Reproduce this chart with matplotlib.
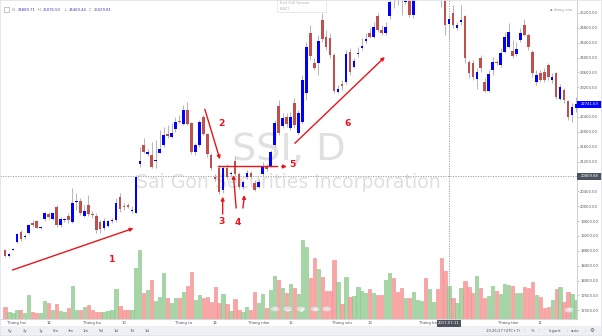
import matplotlib
matplotlib.use('Agg')
import matplotlib.pyplot as plt
from matplotlib.patches import Rectangle, Circle
import numpy as np

# ---------------- data ----------------
opens = [18822, 18661, 18835, 19045, 19306, 19166, 19271, 19556, 19602, 19419,
         19648, 19790, 19648, 19987, 19494, 19616, 19737, 19583, 20113, 20148,
         19737, 20032, 19796, 19745, 19583, 19406, 19468, 19597, 19629, 20240,
         20019, 20032, 19866, 19825, 21136, 21647, 21396, 21378, 21211, 21439,
         21647, 21943, 21870, 22069, 22300, 22211, 22588, 22230, 21466, 21647,
         22392, 21942, 21378, 20794, 21036, 20436, 21036, 20872, 21224, 20866,
         20525, 20778, 20901, 20632, 20525, 20866, 21063, 21082, 21647, 22696,
         22158, 22400, 22104, 22776, 21969, 22265, 23053, 24651, 23860, 23844,
         25009, 24560, 24517, 24068, 23080, 23287, 23349, 24156, 23753, 24086,
         24264, 24444, 24651, 24560, 25117, 24740, 24651, 25117, 25650, 25700,
         25720, 25480, 25650, 25144, 25600, 25800, 26000, 25850, 26050, 26150,
         25900, 25700, 24889.71, 25189, 24786, 24963, 25117, 23879, 23852, 23422,
         23987, 23341, 23099, 23664, 23887, 23799, 24148, 24283, 24175, 24094,
         24471, 24875, 24606, 24148, 23341, 23583, 23610, 23799, 23395, 23583,
         22884, 23126, 22830, 22454, 22642]
highs = [18841, 18733, 18889, 19287, 19360, 19239, 19513, 19629, 19629, 19481,
         19852, 19852, 19825, 20032, 19718, 19683, 19809, 20482, 20364, 20213,
         20032, 20302, 19871, 19809, 19629, 19675, 19629, 19683, 20213, 20347,
         20086, 20078, 20006, 20840, 21601, 21827, 21539, 21735, 21781, 22050,
         22139, 22185, 22230, 22408, 22454, 22722, 22811, 22273, 21692, 22319,
         22454, 21977, 21431, 20866, 21108, 21082, 21136, 20947, 21324, 20920,
         20705, 20974, 20947, 20705, 20732, 21189, 21136, 21512, 22319, 22857,
         22507, 22507, 22534, 22911, 22588, 23530, 24417, 24875, 23987, 24606,
         25197, 24740, 24659, 24121, 23261, 23395, 24202, 24256, 23987, 24283,
         24525, 24659, 24794, 24955, 25197, 24875, 24955, 25628, 25750, 25800,
         25800, 25620, 25720, 25700, 25900, 26100, 26150, 26150, 26250, 26200,
         25950, 25800, 25076.50, 25413, 24955, 25413, 25144, 23933, 23933, 23718,
         24068, 23449, 23664, 24014, 23933, 24256, 24686, 24928, 24471, 24417,
         24794, 25036, 24659, 24202, 23664, 23664, 23718, 23852, 23583, 23610,
         23288, 23180, 22857, 22776, 22938]
lows = [18626, 18642, 18809, 19018, 19072, 19131, 19244, 19449, 19406, 19387,
        19610, 19648, 19629, 19449, 19433, 19575, 19540, 19556, 19898, 19764,
        19718, 19737, 19683, 19271, 19287, 19360, 19433, 19548, 19583, 19852,
        19898, 19952, 19817, 19809, 21063, 21423, 21351, 21020, 21028, 21423,
        21601, 21827, 21827, 22004, 22230, 22185, 22185, 21404, 21378, 21601,
        21916, 21332, 20974, 20678, 20328, 20355, 20732, 20813, 20813, 20463,
        20463, 20732, 20732, 20396, 20490, 20813, 20947, 21055, 21593, 21915,
        22104, 22131, 22050, 22104, 21915, 22211, 22857, 23933, 23664, 23530,
        24417, 24202, 23987, 23045, 23045, 23126, 23287, 23530, 23718, 24014,
        24202, 24390, 24525, 24525, 24686, 24606, 24606, 25036, 25324, 25413,
        25144, 25439, 25090, 25063, 25560, 25750, 25800, 25800, 26000, 25850,
        25350, 24606, 24469.44, 24794, 24740, 24875, 23852, 23449, 23395, 23153,
        23610, 23072, 23072, 23530, 23799, 23745, 24121, 24256, 23987, 24041,
        24417, 24579, 24202, 23476, 23261, 23341, 23341, 23395, 23314, 22884,
        22857, 22776, 22319, 22273, 22534]
closes = [18661, 18706, 18862, 19252, 19126, 19193, 19486, 19486, 19422, 19446,
          19809, 19702, 19809, 19494, 19648, 19643, 19629, 20094, 20148, 19809,
          19879, 19790, 19769, 19360, 19379, 19602, 19602, 19624, 20078, 19917,
          19992, 19987, 19893, 20794, 21224, 21450, 21466, 21063, 21238, 21531,
          21916, 21889, 21977, 22273, 22257, 22588, 22211, 21466, 21647, 22273,
          21942, 21404, 21020, 20724, 20390, 21036, 20778, 20899, 20866, 20525,
          20659, 20901, 20778, 20436, 20659, 21082, 20993, 21466, 22230, 21977,
          22373, 22211, 22400, 22185, 22507, 23395, 24275, 24041, 23710, 24452,
          24490, 24291, 24068, 23107, 23145, 23234, 24094, 23618, 23906, 24129,
          24310, 24490, 24560, 24829, 24740, 24651, 24829, 25501, 25600, 25620,
          25600, 25507, 25144, 25600, 25800, 26000, 25850, 26050, 26150, 25900,
          25700, 24875, 25029.81, 24875, 24875, 25009, 23987, 23583, 23476, 23610,
          23718, 23099, 23556, 23879, 23852, 24121, 24552, 24686, 24041, 24229,
          24659, 24606, 24283, 23583, 23530, 23395, 23395, 23476, 23476, 22938,
          23207, 22857, 22400, 22669, 22741.63]
volumes = [1.17, 0.73, 0.57, 0.90, 0.90, 0.57, 2.40, 0.73, 0.57, 0.63,
           1.83, 1.63, 0.90, 1.50, 0.83, 0.73, 1.13, 3.30, 0.90, 0.90,
           1.23, 1.37, 0.90, 0.73, 0.73, 0.73, 0.83, 0.90, 2.97, 1.30,
           0.87, 0.87, 0.90, 5.07, 6.90, 2.57, 2.90, 3.90, 1.80, 2.23,
           4.57, 2.07, 1.63, 2.13, 2.13, 2.73, 3.30, 4.67, 1.90, 2.40,
           2.07, 2.23, 1.73, 3.17, 1.57, 2.50, 1.50, 0.80, 1.97, 0.90,
           0.67, 1.17, 0.90, 2.67, 1.63, 2.50, 1.07, 2.90, 4.33, 3.90,
           3.07, 2.63, 3.47, 3.07, 2.50, 7.90, 7.23, 4.07, 6.13, 5.00,
           4.23, 2.80, 2.80, 5.90, 3.67, 1.50, 4.23, 2.17, 2.30, 3.17,
           2.77, 2.63, 2.97, 2.57, 2.40, 2.40, 3.90, 4.63, 4.13, 2.73,
           3.07, 2.07, 2.07, 2.73, 1.90, 1.80, 4.07, 2.97, 1.67, 2.97,
           6.13, 4.80, 3.33, 2.07, 1.63, 3.07, 3.80, 3.23, 2.57, 4.30,
           3.13, 2.13, 2.30, 3.30, 2.80, 2.50, 3.47, 3.40, 3.33, 2.57,
           2.57, 3.23, 3.13, 3.67, 2.40, 2.17, 1.13, 1.17, 1.90, 3.03,
           3.17, 1.73, 2.73, 2.50, 1.90]

time_tick_pos = [3, 11, 22, 30, 45, 53, 64, 72, 85, 92, 107, 127, 135]
time_tick_labels = ['Tháng hai', '14', 'Tháng ba', '13', 'Tháng tư', '14', 'Tháng năm',
                    '15', 'Tháng sáu', '13', 'Tháng bảy', 'Tháng tám', '11']
price_ticks = [17200, 17600, 18000, 18400, 18800, 19200, 19600, 20000, 20400,
               21200, 21600, 22000, 22400, 23200, 23600, 24000, 24400, 24800, 25200]
cross_idx = 112
cross_price = 20809.88
cross_date = '2017-07-11'
last_price = 22741.63
legend_vals = ['24889.71', '25076.50', '24469.44', '25029.81']
range_buttons = ['5y', '2y', '1y', '6m', '3m', '1m', '5d', '1d', '7d', '1d']

# annotations (candle index, price)
ann_arrows = [((1.9, 18284), (32.4, 19406)),
              ((50.4, 22607), (54.2, 21262)),
              ((54.9, 19790), (54.9, 20256)),
              ((58.3, 19952), (57.6, 20840)),
              ((60.0, 19952), (60.4, 20302)),
              ((69.8, 21068), (71.1, 21068)),
              ((73.1, 21692), (95.8, 24014))]
ann_line5 = ((53.8, 68.5), 21090)
ann_labels = [('1', 26.9, 18572), ('2', 54.6, 22230), ('3', 54.6, 19583),
              ('4', 58.6, 19556), ('5', 72.5, 21122), ('6', 86.4, 22230)]

# ---------------- styling ----------------
W, H = 602, 336
UP = '#0000ff'
DOWN = '#c0504d'
WICK = '#b8b8b8'
VUP, VUP_E = '#a6d6a6', '#86c386'
VDN, VDN_E = '#f9a5a5', '#f28b8b'
ANN = '#e8151b'
AXIS_TXT = '#50535e'
SMALL = 2.7

fig = plt.figure(figsize=(W / 100, H / 100), dpi=100)
fig.patch.set_facecolor('white')


def fx(px):
    return px / W


def fy(py):
    return 1 - py / H


AX_R, AX_B = 577, 319
rect = [0, fy(AX_B), AX_R / W, AX_B / H]
axv = fig.add_axes(rect, zorder=1)
ax = fig.add_axes(rect, zorder=2)
ax.patch.set_visible(False)

n = len(opens)
x = np.arange(n)
o = np.array(opens, float)
c = np.array(closes, float)
hi = np.array(highs, float)
lo = np.array(lows, float)
up = c >= o

PITCH = 3.965
xl = (-5 / PITCH, (AX_R - 5) / PITCH)
ylo = 25547 - 26.9 * AX_B
ax.set_xlim(*xl)
ax.set_ylim(ylo, 25547)
axv.set_xlim(*xl)
axv.set_ylim(0, AX_B / 10)

# volume
vcol = [VUP if u else VDN for u in up]
vedge = [VUP_E if u else VDN_E for u in up]
axv.bar(x, volumes, width=0.82, color=vcol, edgecolor=vedge, linewidth=0.4, zorder=1)
axv.axis('off')

# watermark
axv.text(0.5, 1 - 160 / AX_B, 'SSI, D', transform=axv.transAxes, ha='center',
         va='baseline', fontsize=27.5, color='#e0e0e0', zorder=0)
axv.text(0.5, 1 - 188.5 / AX_B, 'Sai Gon Securities Incorporation', transform=axv.transAxes,
         ha='center', va='baseline', fontsize=13.6, color='#e0e0e0', zorder=0)

# candles
ax.vlines(x, lo, hi, color=WICK, linewidth=0.75, zorder=3)
body_lo = np.minimum(o, c)
body_h = np.maximum(np.abs(c - o), 27)
ax.bar(x, body_h, bottom=body_lo, width=0.66, color=np.where(up, UP, DOWN),
       linewidth=0, zorder=4)

# crosshair
ax.axvline(cross_idx, color='#9598a1', lw=0.6, ls=(0, (1.5, 1.5)), zorder=2)
ax.axhline(cross_price, color='#9598a1', lw=0.6, ls=(0, (1.5, 1.5)), zorder=2)

# annotations
for (s, e) in ann_arrows:
    ax.annotate('', xy=e, xytext=s,
                arrowprops=dict(arrowstyle='-|>', color=ANN, lw=1.0, mutation_scale=5,
                                shrinkA=0, shrinkB=0), zorder=6)
ax.plot(list(ann_line5[0]), [ann_line5[1]] * 2, color=ANN, lw=1.0, zorder=6)
for t, xi, yp in ann_labels:
    ax.text(xi, yp, t, color=ANN, fontsize=6.6, fontweight='bold', ha='center',
            va='center', zorder=6)

# axes styling
for s in ['top', 'left']:
    ax.spines[s].set_visible(False)
ax.spines['right'].set_color('#c8c8c8')
ax.spines['bottom'].set_color('#d0d0d0')
ax.spines['right'].set_linewidth(0.6)
ax.spines['bottom'].set_linewidth(0.6)
ax.yaxis.tick_right()
ax.set_yticks(price_ticks)
ax.set_yticklabels([f'{p:.2f}' for p in price_ticks])
ax.tick_params(axis='y', length=1.5, width=0.5, color='#b0b0b0', labelcolor=AXIS_TXT,
               labelsize=SMALL, pad=0.8)
ax.set_xticks(time_tick_pos)
ax.set_xticklabels(time_tick_labels)
ax.tick_params(axis='x', length=0, labelcolor=AXIS_TXT, labelsize=SMALL, pad=1.6)


# price label boxes
def price_box(price, fc, txt):
    yp = ax.transData.transform((0, price))[1]
    ypix = H - yp
    fig.patches.append(Rectangle((fx(577), fy(ypix + 3.6)), 25 / W, 7.2 / H,
                                 transform=fig.transFigure, facecolor=fc, edgecolor='none',
                                 zorder=10))
    fig.text(fx(589.5), fy(ypix), txt, ha='center', va='center', fontsize=SMALL,
             color='white', zorder=11)


price_box(last_price, '#0000ff', f'{last_price:.2f}')
price_box(cross_price, '#4c525e', f'{cross_price:.2f}')

# time label box
xc = ax.transData.transform((cross_idx, 0))[0]
fig.patches.append(Rectangle((fx(xc - 12), fy(326.5)), 24 / W, 7 / H, transform=fig.transFigure,
                             facecolor='#4c525e', edgecolor='none', zorder=10))
fig.text(fx(xc), fy(323), cross_date, ha='center', va='center', fontsize=SMALL,
         color='white', zorder=11)

# bottom toolbar
fig.patches.append(Rectangle((0, 0), 1, 10 / H, transform=fig.transFigure,
                             facecolor='#eef0f3', edgecolor='none', zorder=1))
bx = 10
for lab in range_buttons:
    fig.text(fx(bx), fy(331), lab, ha='center', va='center', fontsize=SMALL,
             color=AXIS_TXT, zorder=11)
    bx += 15.2
for lab, px in [('19:26:27 (UTC+7)', 503), ('%', 533), ('logarit', 555), ('auto', 575)]:
    fig.text(fx(px), fy(331), lab, ha='center', va='center', fontsize=SMALL,
             color=AXIS_TXT, zorder=11)
fig.text(fx(592), fy(331), '⚙', ha='center', va='center', fontsize=4, color=AXIS_TXT, zorder=11)
for px in [524, 539, 567, 585]:
    fig.text(fx(px), fy(331), '|', ha='center', va='center', fontsize=SMALL,
             color='#c8c8c8', zorder=11)

# top-left legend
fig.patches.append(Rectangle((fx(4), fy(12)), 5 / W, 5 / H, transform=fig.transFigure,
                             facecolor='none', edgecolor='#9a9a9a', lw=0.4, zorder=10))
for lab, px in [('O:', 12), ('H', 38), ('L', 64.5), ('C', 89)]:
    fig.text(fx(px), fy(10), lab, ha='left', va='center', fontsize=SMALL, color='#7a7a7a',
             zorder=11)
for val, px in zip(legend_vals, [17.5, 43, 69, 94]):
    fig.text(fx(px), fy(10), val, ha='left', va='center', fontsize=SMALL, color='#3c3cb4',
             zorder=11)

# top right
fig.text(fx(551), fy(10), '●', ha='center', va='center', fontsize=2.2, color='#9a9a9a', zorder=11)
fig.text(fx(554), fy(10), 'đóng cửa', ha='left', va='center', fontsize=SMALL, color='#9a9a9a',
         zorder=11)

# exit fullscreen tooltip
fig.patches.append(Rectangle((fx(277), fy(12)), 49 / W, 12 / H, transform=fig.transFigure,
                             facecolor='white', edgecolor='#e2e2e2', lw=0.5, zorder=10))
fig.text(fx(280), fy(3.5), 'Exit Full Screen', ha='left', va='center', fontsize=SMALL,
         color='#b0b0b0', zorder=11)
fig.text(fx(280), fy(8.7), '(ESC)', ha='left', va='center', fontsize=SMALL,
         color='#b0b0b0', zorder=11)

# navigation buttons
for px, sym in zip([275, 287.7, 301, 315, 326.7], ['‹', '−', '↺', '+', '›']):
    fig.patches.append(Circle((fx(px), fy(309)), 4.3 / W, transform=fig.transFigure,
                              facecolor='#e4e4e6', edgecolor='none', alpha=0.85, zorder=10))
fig.patches.append(Circle((fx(569), fy(310)), 4.5 / W, transform=fig.transFigure,
                          facecolor='#e4e4e6', edgecolor='none', alpha=0.85, zorder=10))
for px, sym in zip([275, 287.7, 301, 315, 326.7, 569], ['‹', '−', '↺', '+', '›', '×']):
    fig.text(fx(px), fy(309.3), sym, ha='center', va='center', fontsize=4.5, color='white',
             fontweight='bold', zorder=11)

# frame
fig.patches.append(Rectangle((0, 0), 1, 1, transform=fig.transFigure, facecolor='none',
                             edgecolor='#e0e3eb', lw=1.2, zorder=12))

fig.savefig('out.png', dpi=100)
